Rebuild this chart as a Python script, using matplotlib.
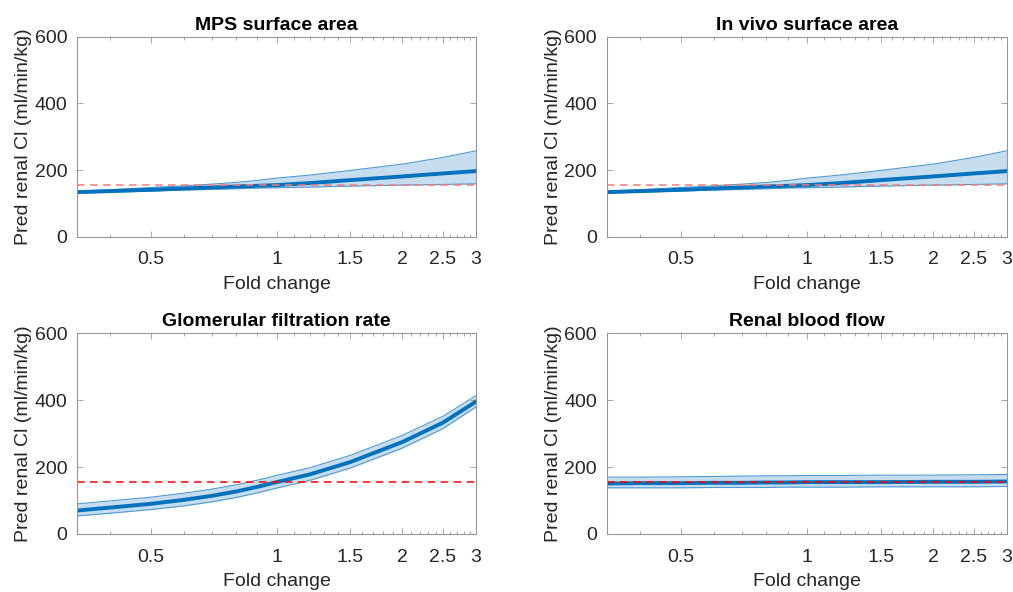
import numpy as np
import matplotlib.pyplot as plt
from matplotlib.ticker import FixedLocator, NullFormatter

plt.rcParams['font.family'] = ['Liberation Sans', 'DejaVu Sans']

# fold change grid (x) shared by all panels
fold = [1/3, 0.4, 0.5, 0.6, 0.7, 0.8, 0.9, 1.0, 1.2, 1.5, 2.0, 2.5, 3.0]

# MPS surface area
mps_med = [134, 137, 141, 145, 148, 151, 153, 155, 161, 170, 181, 190, 197]
mps_hi = [137, 141, 148, 153, 158, 163, 169, 176, 185, 199, 218, 238, 258]
mps_lo = [131, 134, 137, 140, 142, 144, 146, 147, 149, 152, 155, 157, 159]

# in vivo surface area
inv_med = [134, 137, 141, 145, 148, 151, 153, 155, 161, 170, 181, 190, 197]
inv_hi = [137, 141, 148, 153, 158, 163, 169, 176, 185, 199, 218, 238, 258]
inv_lo = [131, 134, 137, 140, 142, 144, 146, 147, 149, 152, 155, 157, 159]

# glomerular filtration rate
gfr_med = [70, 79, 90, 102, 114, 127, 141, 155, 178, 215, 275, 333, 396]
gfr_hi = [90, 99, 110, 122, 134, 147, 161, 175, 198, 235, 295, 352, 414]
gfr_lo = [54, 62, 73, 84, 96, 109, 123, 137, 160, 197, 257, 315, 380]

# renal blood flow
rbf_med = [151, 152, 152, 153, 153, 154, 154, 155, 155, 155, 156, 156, 157]
rbf_hi = [170, 170, 171, 172, 173, 174, 174, 175, 175, 176, 176, 177, 178]
rbf_lo = [138, 138, 138, 139, 139, 139, 140, 140, 140, 141, 141, 141, 142]

observed_cl = 155  # observed renal clearance (red dashed)

titles = ['MPS surface area', 'In vivo surface area',
          'Glomerular filtration rate', 'Renal blood flow']
panels = [(mps_med, mps_lo, mps_hi), (inv_med, inv_lo, inv_hi),
          (gfr_med, gfr_lo, gfr_hi), (rbf_med, rbf_lo, rbf_hi)]
red_cols = ['#f47a7a', '#f47a7a', 'red', 'red']

xticks = [0.5, 1, 1.5, 2, 2.5, 3]
xticklabels = ['0.5', '1', '1.5', '2', '2.5', '3']
yticks = [0, 200, 400, 600]
minor_x = [v for v in np.round(np.arange(0.4, 3.0, 0.1), 1) if v not in xticks]

# axes boxes in figure fraction [left, bottom, width, height]
boxes = [[0.076, 0.600, 0.394, 0.338], [0.599, 0.600, 0.395, 0.338],
         [0.076, 0.098, 0.394, 0.339], [0.599, 0.098, 0.395, 0.339]]

txt = '#262626'
axcol = '#969696'
blue = '#0072BD'

fig = plt.figure(figsize=(10.13, 5.92), dpi=100)
for box, title, (med, lo, hi), rc in zip(boxes, titles, panels, red_cols):
    ax = fig.add_axes(box)
    ax.fill_between(fold, lo, hi, color='#c6ddef', lw=0)
    ax.plot(fold, hi, color='#4d9ad3', lw=0.8)
    ax.plot(fold, lo, color='#4d9ad3', lw=0.8)
    ax.plot(fold, med, color=blue, lw=2.8)
    ax.axhline(observed_cl, color=rc, ls=(0, (5, 3.5)), lw=1.1)

    ax.set_xscale('log')
    ax.set_xlim(1/3, 3)
    ax.set_ylim(0, 600)
    ax.set_xticks(xticks)
    ax.set_xticklabels(xticklabels)
    ax.xaxis.set_minor_locator(FixedLocator(minor_x))
    ax.xaxis.set_minor_formatter(NullFormatter())
    ax.set_yticks(yticks)

    ax.tick_params(which='both', direction='in', top=True, right=True,
                   colors=axcol, labelcolor=txt, labelsize=14, width=0.6)
    ax.tick_params(which='major', length=4)
    ax.tick_params(axis='x', which='major', pad=10.5)
    ax.tick_params(axis='y', which='major', pad=7)
    ax.tick_params(which='minor', length=2)
    for s in ax.spines.values():
        s.set_color(axcol)
        s.set_linewidth(0.8)

    ax.set_title(title, fontsize=14, fontweight='bold', color='black', pad=5)
    ax.set_xlabel('Fold change', fontsize=14, color=txt, labelpad=5.5)
    ax.set_ylabel('Pred renal Cl (ml/min/kg)', fontsize=14, color=txt, labelpad=2)

fig.savefig('out.png', dpi=100)
